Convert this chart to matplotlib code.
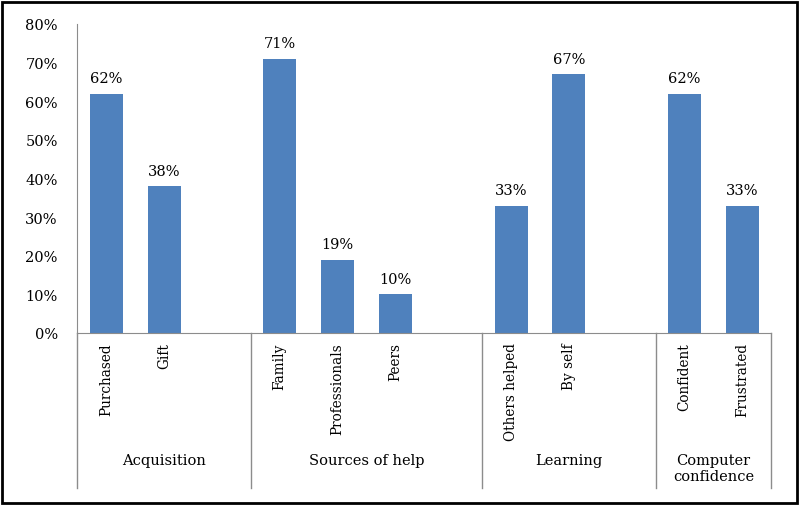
import matplotlib
matplotlib.use("Agg")
import matplotlib.pyplot as plt
from matplotlib.patches import Rectangle
from matplotlib.transforms import blended_transform_factory

# data, one blank slot after each group (as in the source sheet)
groups = ["Acquisition", "Sources of help", "Learning", "Computer\nconfidence"]
items = [["Purchased", "Gift"],
         ["Family", "Professionals", "Peers"],
         ["Others helped", "By self"],
         ["Confident", "Frustrated"]]
values = [[62, 38],
          [71, 19, 10],
          [33, 67],
          [62, 33]]
yticks = [0, 10, 20, 30, 40, 50, 60, 70, 80]

bar_color = "#4F81BD"
axis_color = "#8C8C8C"
plt.rcParams['font.family'] = ['DejaVu Serif']
plt.rcParams['font.size'] = 10

fig = plt.figure(figsize=(8, 5.06), dpi=100)
ax = fig.add_axes([0.0966, 0.34, 0.8675, 0.6106])
trans = blended_transform_factory(ax.transData, ax.transAxes)

# slot positions for each group
pos = 0
spans = []
for g, its, vals in zip(groups, items, values):
    start = pos
    xs = list(range(pos, pos + len(its)))
    ax.bar(xs, vals, width=0.57, color=bar_color, zorder=2)
    for x, v, name in zip(xs, vals, its):
        ax.annotate(f"{v}%", (x, v), xytext=(0, 6), textcoords="offset points",
                    ha="center", va="bottom", fontsize=10.5)
        ax.text(x, -0.03, name, transform=trans,
                rotation=90, ha="center", va="top", fontsize=9.8)
    pos += len(its)
    end = pos if g != groups[-1] else pos - 1
    spans.append((start - 0.5, end + 0.5))
    pos += 1

ax.set_xlim(-0.5, spans[-1][1])
ax.set_ylim(0, 80)
ax.set_yticks(yticks)
ax.set_yticklabels([f"{t}%" for t in yticks], fontsize=10.5)
ax.tick_params(axis="y", length=0, pad=14)
ax.set_xticks([])
for s in ["top", "right"]:
    ax.spines[s].set_visible(False)
ax.spines["left"].set_color(axis_color)
ax.spines["bottom"].set_color(axis_color)

# multi-level category axis below the plot
bottom = -0.503
edges = sorted(set([a for a, b in spans] + [b for a, b in spans]))
for e in edges:
    ax.plot([e, e], [0, bottom], transform=trans, color=axis_color, lw=1, clip_on=False)
for g, (a, b) in zip(groups, spans):
    ax.text((a + b) / 2, -0.39, g, transform=trans, ha="center", va="top",
            fontsize=10.5, linespacing=1.15)

# outer frame
fig.patches.append(Rectangle((0.002, 0.004), 0.994, 0.99, transform=fig.transFigure,
                             fill=False, edgecolor="black", lw=2))

fig.savefig("out.png", dpi=100)
